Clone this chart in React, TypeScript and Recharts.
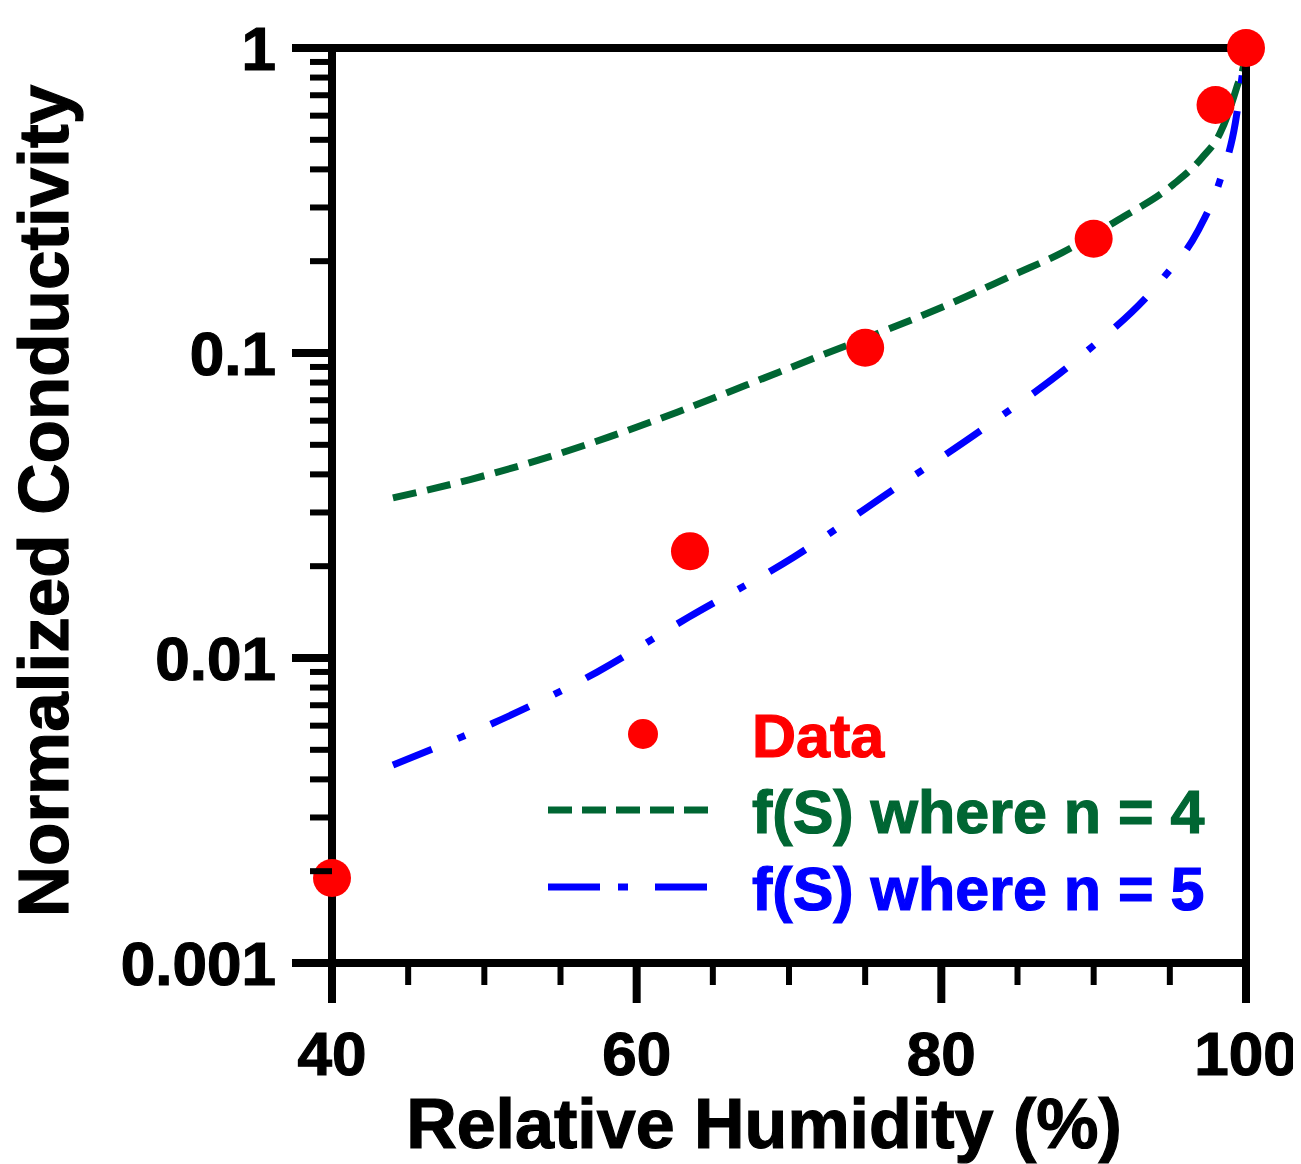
import React from 'react';
import { ComposedChart, Line, Scatter, XAxis, YAxis } from 'recharts';

// ---------- data ----------
const dataRH = [40, 63.5, 75, 90, 98, 100];
const dataCond = [0.0019, 0.0224, 0.104, 0.237, 0.65, 1];

const n4RH = [44, 49, 53.6, 58.2, 62.7, 67.2, 71.7, 76.4, 80.7, 84.7, 87.9, 91.6, 95.2, 97.1, 98.3, 99.4, 99.9, 100];
const n4Cond = [0.0335, 0.0384, 0.0446, 0.0531, 0.0641, 0.0785, 0.0964, 0.119, 0.146, 0.18, 0.213, 0.273, 0.356, 0.436, 0.526, 0.745, 0.914, 1];

const n5RH = [44, 50.6, 57.4, 63.4, 70.3, 76.6, 83.1, 89.1, 94.6, 96.8, 98.3, 99.3, 99.8, 100];
const n5Cond = [0.00446, 0.00612, 0.00899, 0.0136, 0.0214, 0.035, 0.0581, 0.097, 0.177, 0.249, 0.369, 0.568, 0.847, 1];

const xTicks = [40, 45, 50, 55, 60, 65, 70, 75, 80, 85, 90, 95, 100];
const xMajorTicks = [40, 60, 80, 100];
const xTickLabels = ['40', '60', '80', '100'];

const yTicks = [
  0.001, 0.002, 0.003, 0.004, 0.005, 0.006, 0.007, 0.008, 0.009,
  0.01, 0.02, 0.03, 0.04, 0.05, 0.06, 0.07, 0.08, 0.09,
  0.1, 0.2, 0.3, 0.4, 0.5, 0.6, 0.7, 0.8, 0.9,
  1,
];
const yMajorTicks = [0.001, 0.01, 0.1, 1];
const yTickLabels = ['0.001', '0.01', '0.1', '1'];

const legendLabels = ['Data', 'f(S) where n = 4', 'f(S) where n = 5'];
const xAxisTitle = 'Relative Humidity (%)';
const yAxisTitle = 'Normalized Conductivity';

// ---------- styles ----------
const FONT = '"Liberation Sans", Arial, Helvetica, sans-serif';
const RED = '#ff0000';
const GREEN = '#006633';
const BLUE = '#0000ff';

const toPoints = (xs: number[], ys: number[]) => xs.map((x, i) => ({ x, y: ys[i] }));
const dataPts = toPoints(dataRH, dataCond);
const n4Pts = toPoints(n4RH, n4Cond);
const n5Pts = toPoints(n5RH, n5Cond);

const txt = (size: number, color = '#000') => ({
  fontFamily: FONT,
  fontWeight: 700 as const,
  fontSize: size,
  fill: color,
  stroke: color,
  strokeWidth: 1.2,
});

const majorYIndex = (v: number) => yMajorTicks.findIndex((m) => Math.abs(m - v) / m < 1e-6);

const MAJOR = 40;
const MINOR = 22;

function BottomTick(props: any) {
  const { x, y, payload } = props;
  const idx = xMajorTicks.indexOf(payload.value);
  const major = idx >= 0;
  return (
    <g>
      <line x1={x} x2={x} y1={y} y2={y + (major ? MAJOR : MINOR)} stroke="#000" strokeWidth={major ? 8 : 6} />
      {major && (
        <text x={x} y={y + 112} textAnchor="middle" style={txt(62)}>
          {xTickLabels[idx]}
        </text>
      )}
    </g>
  );
}

function TopTick(props: any) {
  const { x, y, payload } = props;
  const major = xMajorTicks.indexOf(payload.value) >= 0;
  return <line x1={x} x2={x} y1={y} y2={y - (major ? MAJOR : MINOR)} stroke="#000" strokeWidth={major ? 8 : 6} />;
}

function LeftTick(props: any) {
  const { x, y, payload } = props;
  const idx = majorYIndex(payload.value);
  const major = idx >= 0;
  return (
    <g>
      <line x1={x} x2={x - (major ? MAJOR : MINOR)} y1={y} y2={y} stroke="#000" strokeWidth={major ? 8 : 6} />
      {major && (
        <text x={x - 56} y={y + 22} textAnchor="end" style={txt(62)}>
          {yTickLabels[idx]}
        </text>
      )}
    </g>
  );
}

function RightTick(props: any) {
  const { x, y, payload } = props;
  const major = majorYIndex(payload.value) >= 0;
  return <line x1={x} x2={x + (major ? MAJOR : MINOR)} y1={y} y2={y} stroke="#000" strokeWidth={major ? 8 : 6} />;
}

function Overlay() {
  const lx = 530;
  const ly = 700;
  return (
    <g>
      <text x={68} y={501} transform="rotate(-90, 68, 501)" textAnchor="middle" style={txt(71)}>
        {yAxisTitle}
      </text>
      <text x={764} y={1148} textAnchor="middle" style={txt(70)}>
        {xAxisTitle}
      </text>
      <g transform={`translate(${lx}, ${ly})`}>
        <circle cx={113} cy={34} r={15} fill={RED} />
        <text x={222} y={57} style={txt(61, RED)}>
          {legendLabels[0]}
        </text>
        <line x1={18} x2={188} y1={110} y2={110} stroke={GREEN} strokeWidth={7} strokeDasharray="24 10" />
        <text x={222} y={133} style={txt(61, GREEN)}>
          {legendLabels[1]}
        </text>
        <line x1={18} x2={178} y1={187} y2={187} stroke={BLUE} strokeWidth={7} strokeDasharray="52 18 10 27" />
        <text x={222} y={210} style={txt(61, BLUE)}>
          {legendLabels[2]}
        </text>
      </g>
    </g>
  );
}

const Dot = (props: any) => <circle cx={props.cx} cy={props.cy} r={19} fill={RED} />;

export default function App() {
  return (
    <div style={{ marginLeft: -8, marginTop: -8, width: 1301, height: 1164 }}>
      <ComposedChart width={1301} height={1164} margin={{ top: 0, right: 0, bottom: 0, left: 0 }}>
        <XAxis
          xAxisId="b"
          dataKey="x"
          type="number"
          domain={[40, 100]}
          ticks={xTicks}
          interval={0}
          orientation="bottom"
          height={201}
          tickSize={0}
          tickMargin={0}
          tickLine={false}
          tick={<BottomTick />}
          axisLine={{ stroke: '#000', strokeWidth: 8 }}
        />
        <XAxis
          xAxisId="t"
          type="number"
          domain={[40, 100]}
          ticks={xTicks}
          interval={0}
          orientation="top"
          height={48}
          tickSize={0}
          tickMargin={0}
          tickLine={false}
          tick={<TopTick />}
          axisLine={{ stroke: '#000', strokeWidth: 8 }}
        />
        <YAxis
          yAxisId="l"
          dataKey="y"
          type="number"
          scale="log"
          domain={[0.001, 1]}
          ticks={yTicks}
          interval={0}
          orientation="left"
          width={332}
          tickSize={0}
          tickMargin={0}
          tickLine={false}
          tick={<LeftTick />}
          axisLine={{ stroke: '#000', strokeWidth: 8 }}
        />
        <YAxis
          yAxisId="r"
          type="number"
          scale="log"
          domain={[0.001, 1]}
          ticks={yTicks}
          interval={0}
          orientation="right"
          width={55}
          tickSize={0}
          tickMargin={0}
          tickLine={false}
          tick={<RightTick />}
          axisLine={{ stroke: '#000', strokeWidth: 8 }}
        />
        <Line
          xAxisId="b"
          yAxisId="l"
          data={n4Pts}
          dataKey="y"
          type="monotone"
          stroke={GREEN}
          strokeWidth={7}
          strokeDasharray="24 11"
          dot={false}
          activeDot={false}
          isAnimationActive={false}
        />
        <Line
          xAxisId="b"
          yAxisId="l"
          data={n5Pts}
          dataKey="y"
          type="monotone"
          stroke={BLUE}
          strokeWidth={7}
          strokeDasharray="42 28 8 28"
          dot={false}
          activeDot={false}
          isAnimationActive={false}
        />
        <Scatter
          xAxisId="b"
          yAxisId="l"
          data={dataPts}
          dataKey="y"
          fill={RED}
          shape={<Dot />}
          isAnimationActive={false}
        />
        <Overlay />
      </ComposedChart>
    </div>
  );
}
